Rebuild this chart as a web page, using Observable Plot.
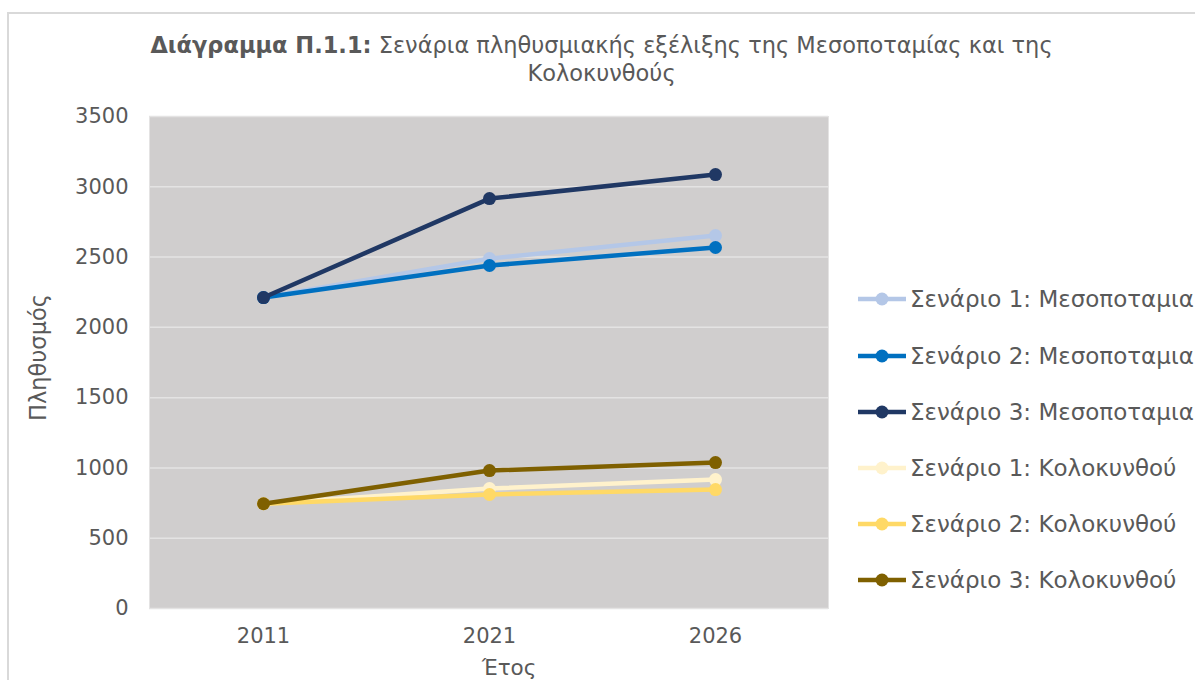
<!DOCTYPE html>
<html>
<head>
<meta charset="utf-8">
<script src="https://cdn.jsdelivr.net/npm/d3@7"></script>
<script src="https://cdn.jsdelivr.net/npm/@observablehq/plot@0.6"></script>
<style>
  html, body { margin:0; padding:0; background:#fff; }
  #wrap { position:relative; width:1195px; height:680px; overflow:hidden; font-family:"DejaVu Sans", Verdana, sans-serif; color:#595959; }
  #border { position:absolute; left:7px; top:12px; width:1300px; height:800px; border-left:2px solid #D9D9D9; border-top:2px solid #D9D9D9; }
  #title { position:absolute; left:0; width:1195px; top:31px; text-align:center; font-size:22.5px; line-height:28px; padding-left:8px; box-sizing:border-box; }
  #title b { font-weight:bold; }
  #chart { position:absolute; left:0; top:0; }
  #legend { position:absolute; left:0; top:0; width:1195px; height:680px; pointer-events:none; }
  .item { position:absolute; left:858px; height:24px; display:flex; align-items:center; font-size:23px; white-space:nowrap; }
  .item svg { display:block; margin-right:4px; }
</style>
</head>
<body>
<div id="wrap">
  <div id="border"></div>
  <div id="chart"></div>
  <div id="title"><b>Διάγραμμα Π.1.1:</b> Σενάρια πληθυσμιακής εξέλιξης της Μεσοποταμίας και της<br>Κολοκυνθούς</div>
  <div id="legend"></div>
</div>
<script>
const years = ["2011", "2021", "2026"];
const seriesNames = [
  "Σενάριο 1: Μεσοποταμια",
  "Σενάριο 2: Μεσοποταμια",
  "Σενάριο 3: Μεσοποταμια",
  "Σενάριο 1: Κολοκυνθού",
  "Σενάριο 2: Κολοκυνθού",
  "Σενάριο 3: Κολοκυνθού"
];
const mesoS1 = [2212, 2489, 2653];
const mesoS2 = [2212, 2440, 2568];
const mesoS3 = [2212, 2916, 3087];
const koloS1 = [745, 853, 917];
const koloS2 = [745, 811, 846];
const koloS3 = [745, 981, 1038];
const seriesColors = ["#B4C7E7", "#0070C0", "#203864", "#FFF2CC", "#FFD966", "#7F6000"];
const yTicks = [0, 500, 1000, 1500, 2000, 2500, 3000, 3500];

const allValues = [mesoS1, mesoS2, mesoS3, koloS1, koloS2, koloS3];
const data = [];
seriesNames.forEach((s, i) => {
  years.forEach((y, j) => data.push({series: s, year: y, value: allValues[i][j]}));
});

const seriesMarks = [];
seriesNames.forEach((s) => {
  const d = data.filter(r => r.series === s);
  seriesMarks.push(Plot.line(d, {x: "year", y: "value", stroke: "series", strokeWidth: 4.5, strokeLinejoin: "round"}));
  seriesMarks.push(Plot.dot(d, {x: "year", y: "value", fill: "series", r: 6.5, stroke: "none"}));
});

const chart = Plot.plot({
  width: 1195,
  height: 680,
  marginLeft: 149,
  marginRight: 367,
  marginTop: 116,
  marginBottom: 72,
  style: {fontFamily: "DejaVu Sans, Verdana, sans-serif", fontSize: "21px", color: "#595959", background: "transparent"},
  x: {type: "point", domain: years, padding: 0.5, label: null},
  y: {domain: [0, 3500], label: null},
  color: {domain: seriesNames, range: seriesColors},
  marks: [
    Plot.frame({fill: "#D0CECE", stroke: "#E4E3E3", strokeWidth: 1}),
    Plot.gridY(yTicks, {stroke: "#E4E3E3", strokeOpacity: 1, strokeWidth: 1.5}),
    Plot.axisY(yTicks, {tickSize: 0, tickPadding: 21, fontSize: 21, label: null, tickFormat: d => String(d)}),
    Plot.axisX({tickSize: 0, tickPadding: 20, fontSize: 21, label: null}),
    Plot.text(["Πληθυσμός"], {frameAnchor: "left", textAnchor: "middle", rotate: -90, dx: -111, dy: -5, fontSize: 22.5, fill: "#595959"}),
    Plot.text(["Έτος"], {frameAnchor: "bottom", textAnchor: "middle", dx: 20, dy: 66, fontSize: 21.5, fill: "#595959"}),
    ...seriesMarks
  ]
});
document.getElementById("chart").appendChild(chart);

// legend
const legend = document.getElementById("legend");
const legendY = [299, 356, 412, 468, 524, 580];
seriesNames.forEach((s, i) => {
  const div = document.createElement("div");
  div.className = "item";
  div.style.top = (legendY[i] - 12) + "px";
  const c = seriesColors[i];
  div.innerHTML = `<svg width="48" height="24"><line x1="0" y1="12" x2="48" y2="12" stroke="${c}" stroke-width="4.5"/><circle cx="24" cy="12" r="6.5" fill="${c}"/></svg><span>${s}</span>`;
  legend.appendChild(div);
});
</script>
</body>
</html>
